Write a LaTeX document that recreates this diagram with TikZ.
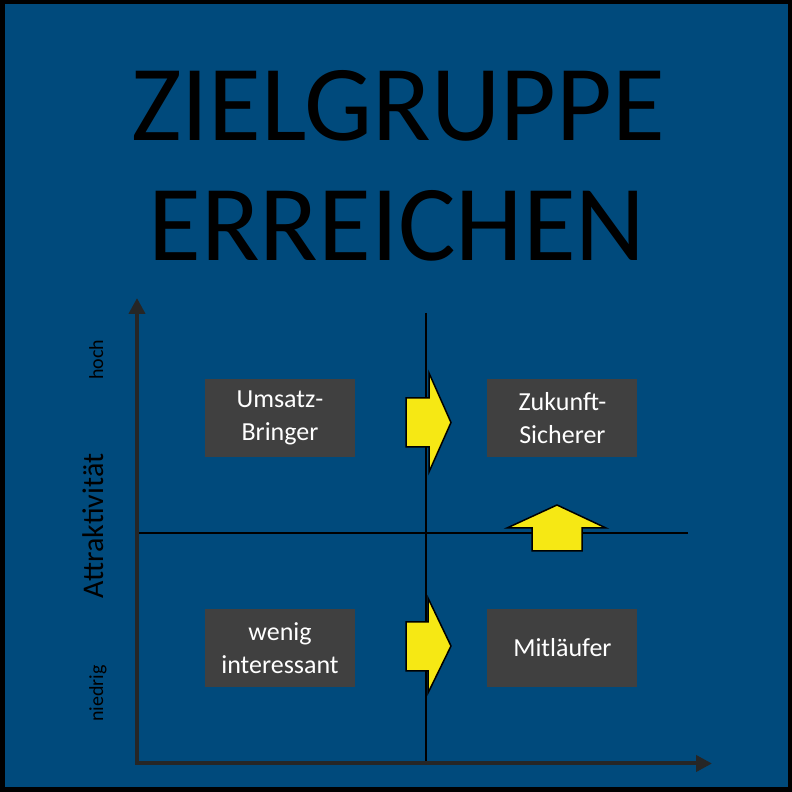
\documentclass[tikz,border=0pt]{standalone}
\usepackage{fontspec}
\setmainfont{Carlito}
\usetikzlibrary{arrows.meta,positioning}
\definecolor{bgblue}{RGB}{0,74,124}
\definecolor{boxgray}{RGB}{64,64,64}
\definecolor{axisgray}{RGB}{38,38,38}
\definecolor{arrowyellow}{RGB}{246,232,20}
\tikzset{
    fieldbox/.style={fill=boxgray, align=center, text=white, font=\fontsize{26}{33}\selectfont, minimum width=150pt, minimum height=78pt, inner sep=0pt},
    titletext/.style={anchor=base, font=\fontsize{108}{120}\selectfont},
    axislabel/.style={rotate=90, anchor=base, font=\fontsize{20}{20}\selectfont},
    axisline/.style={draw=axisgray, line width=4pt, {Triangle[length=16pt,width=16pt]}-{Triangle[length=16pt,width=16pt]}},
    gridline/.style={draw=black, line width=2pt},
    yellowarrow/.style={fill=arrowyellow, draw=black, line width=1.5pt, line join=miter}
}
\begin{document}
\begin{tikzpicture}[x=1pt, y=1pt, node distance=78pt and 132pt]
        \useasboundingbox (0,0) rectangle (792,792);
        \draw[fill=bgblue, line width=4.5pt] (2.25,2.25) rectangle (789.75,789.75);
        \node[titletext] (title) at (398,651) {ZIELGRUPPE};
        \node[titletext] (titlebottom) at (397,531) {ERREICHEN};
        \coordinate (origin) at (137,28.5);
        \coordinate (ytop) at (137,494);
        \coordinate (xend) at (712,28.5);
        \coordinate (midleft) at (139,259);
        \coordinate (midright) at (688,259);
        \coordinate (midtop) at (426,479);
        \coordinate (midbottom) at (426,27);
        \draw[gridline] (midleft) -- (midright);
        \draw[gridline] (midtop) -- (midbottom);
        \draw[axisline] (ytop) -- (origin) -- (xend);
        \node[axislabel, font=\fontsize{30}{30}\selectfont] (attr) at (103,266) {Attraktivität};
        \node[axislabel] (hoch) at (103,432.5) {hoch};
        \node[axislabel] (niedrig) at (103,98.5) {niedrig};
        \node[fieldbox] (umsatz) at (280,374) {Umsatz-\\Bringer};
        \node[fieldbox, right=of umsatz] (zukunft) {Zukunft-\\Sicherer};
        \node[fieldbox] (wenig) at (280,144) {wenig\\interessant};
        \node[fieldbox, right=of wenig] (mitlaeufer) {Mitläufer};
        \draw[yellowarrow] (406,394) -- (429,394) -- (429,419) -- (451,369.5) -- (429,320) -- (429,345) -- (406,345) -- cycle;
        \draw[yellowarrow] (406,170) -- (428,170) -- (428,194) -- (451,146) -- (428,99) -- (428,121) -- (406,121) -- cycle;
        \draw[yellowarrow] (532,241) -- (532,264) -- (507,264) -- (557,287) -- (606,264) -- (582,264) -- (582,241) -- cycle;
    \end{tikzpicture}
\end{document}
